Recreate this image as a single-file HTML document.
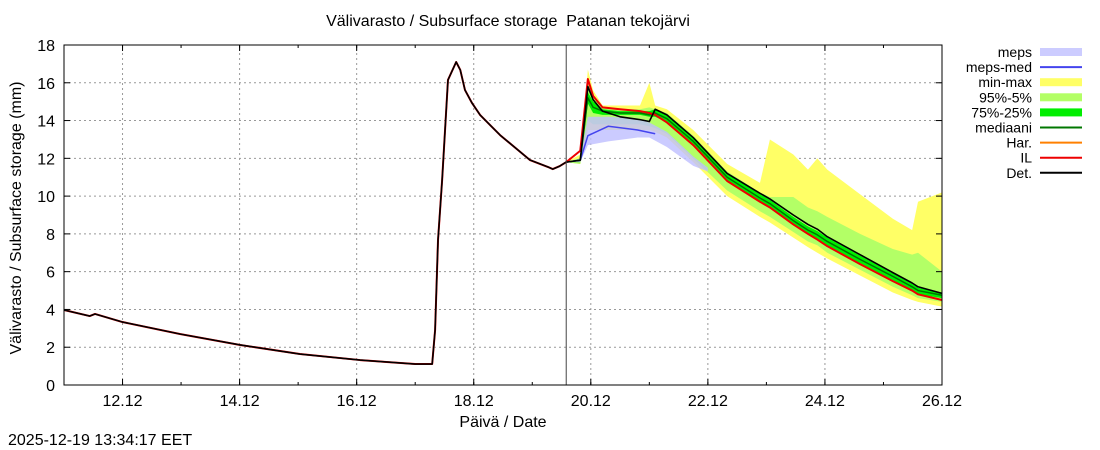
<!DOCTYPE html>
<html><head><meta charset="utf-8"><style>
body{margin:0;background:#fff;}
svg{display:block;font-family:"Liberation Sans",sans-serif;}
</style></head><body>
<svg id="chart" width="1100" height="450" xmlns="http://www.w3.org/2000/svg">
<text x="508" y="26" font-size="16" text-anchor="middle" xml:space="preserve">Välivarasto / Subsurface storage  Patanan tekojärvi</text>
<text x="503" y="427" font-size="16" text-anchor="middle">Päivä / Date</text>
<text transform="translate(21,218) rotate(-90)" font-size="16" text-anchor="middle">Välivarasto / Subsurface storage (mm)</text>
<text x="8" y="445" font-size="16">2025-12-19 13:34:17 EET</text>
<g id="grid"></g><g id="marks"></g><g id="axes"></g><g id="legend"></g>
</svg>
<script>
const xTickDays=[12,14,16,18,20,22,24,26];
const xTickLabels=["12.12","14.12","16.12","18.12","20.12","22.12","24.12","26.12"];
const yTicks=[0,2,4,6,8,10,12,14,16,18];
const histDays=[11.0,11.44,11.53,11.99,12.98,14.01,15.03,16.06,17.0,17.29,17.34,17.39,17.46,17.56,17.70,17.77,17.85,17.97,18.11,18.45,18.96,19.27,19.35,19.47,19.58];
const histVals=[3.97,3.65,3.76,3.34,2.70,2.12,1.64,1.32,1.11,1.11,2.91,7.68,10.85,16.15,17.10,16.68,15.62,14.93,14.29,13.23,11.91,11.54,11.43,11.59,11.80];
const fDays=[19.58,19.82,19.95,20.04,20.2,20.5,20.84,21.0,21.1,21.3,21.75,22.33,22.89,23.06,23.46,23.71,23.87,24.04,24.6,25.16,25.49,25.59,26.0];
const detF=[11.8,11.9,15.8,15.1,14.5,14.2,14.05,13.95,14.6,14.3,13.1,11.2,10.15,9.85,9.0,8.5,8.25,7.85,6.9,5.95,5.4,5.2,4.85];
const maxF=[11.8,12.2,16.7,15.6,14.8,14.8,14.8,16.0,14.8,14.6,13.5,11.7,10.7,13.0,12.2,11.4,12.0,11.4,10.1,8.8,8.2,9.7,10.2];
const p95F=[11.8,12.0,16.0,15.2,14.7,14.6,14.6,14.7,14.6,14.4,13.2,11.3,10.2,9.95,9.95,9.4,9.2,8.9,8.0,7.2,6.9,7.0,6.0];
const p75F=[11.8,12.0,15.5,15.0,14.6,14.5,14.5,14.5,14.6,14.3,13.1,11.2,10.1,9.8,8.9,8.4,8.15,7.8,6.85,5.9,5.35,5.15,4.9];
const medF=[11.8,11.9,15.2,14.7,14.5,14.4,14.4,14.3,14.4,14.1,12.9,11.0,9.9,9.6,8.7,8.2,7.95,7.6,6.65,5.75,5.2,5.0,4.75];
const p25F=[11.8,11.8,14.9,14.4,14.3,14.3,14.3,14.2,14.2,13.9,12.7,10.8,9.7,9.4,8.5,8.0,7.75,7.4,6.45,5.55,5.0,4.8,4.6];
const p5F=[11.8,11.7,14.0,13.8,13.8,13.8,13.8,13.7,13.6,13.3,12.0,10.3,9.2,8.9,8.1,7.6,7.4,7.0,6.1,5.2,4.75,4.6,4.4];
const minF=[11.8,11.7,13.5,13.5,13.5,13.5,13.5,13.5,13.4,13.1,11.8,10.0,8.9,8.6,7.8,7.3,7.0,6.7,5.8,4.9,4.5,4.4,4.15];
const ilF=[11.9,12.4,16.2,15.3,14.7,14.6,14.5,14.4,14.3,13.9,12.7,10.8,9.7,9.4,8.5,8.0,7.7,7.35,6.4,5.5,5.0,4.8,4.5];
const mepsDays=[19.58,19.82,19.95,20.3,20.8,21.0,21.3,21.75,22.0];
const mepsLow=[11.8,11.8,12.7,12.9,13.1,13.1,12.6,11.6,11.3];
const mepsHigh=[11.8,12.0,14.2,14.2,14.1,13.9,13.4,12.1,11.5];
const mepsMedDays=[19.58,19.82,19.95,20.3,20.8,21.1];
const mepsMed=[11.8,11.9,13.2,13.7,13.5,13.3];
const nowDay=19.58;

const X0=64,X1=942,Y0=385,Y1=45,D0=11,D1=26,V0=0,V1=18;
const sx=d=>X0+(d-D0)/(D1-D0)*(X1-X0);
const sy=v=>Y0-(v-V0)/(V1-V0)*(Y0-Y1);
const NS="http://www.w3.org/2000/svg";
function mk(tag,attrs,parent){const e=document.createElementNS(NS,tag);for(const k in attrs)e.setAttribute(k,attrs[k]);parent.appendChild(e);return e;}
const grid=document.getElementById('grid'),marks=document.getElementById('marks'),axes=document.getElementById('axes'),legend=document.getElementById('legend');
xTickDays.forEach((d,i)=>{
  const g=mk('line',{x1:sx(d),x2:sx(d),y1:Y0,y2:Y1,stroke:'#999','stroke-dasharray':'2,3','stroke-width':1},grid);
  
  
  const t=mk('text',{x:sx(d),y:406,'font-size':16,'text-anchor':'middle'},axes);t.textContent=xTickLabels[i];
  
  
  mk('line',{x1:sx(d),x2:sx(d),y1:Y0,y2:Y0-6,stroke:'#000'},axes);
  mk('line',{x1:sx(d),x2:sx(d),y1:Y1,y2:Y1+6,stroke:'#000'},axes);
});
for(let d=11;d<=26;d++){mk('line',{x1:sx(d),x2:sx(d),y1:Y0,y2:Y0-3,stroke:'#000'},axes);mk('line',{x1:sx(d),x2:sx(d),y1:Y1,y2:Y1+3,stroke:'#000'},axes);}
yTicks.forEach(v=>{
  const g=mk('line',{x1:X0,x2:X1,y1:sy(v),y2:sy(v),stroke:'#999','stroke-dasharray':'2,3','stroke-width':1},grid);
  
  
  const t=mk('text',{x:55,y:sy(v)+6,'font-size':16,'text-anchor':'end'},axes);t.textContent=v;
  
  
  mk('line',{x1:X0,x2:X0+6,y1:sy(v),y2:sy(v),stroke:'#000'},axes);
  mk('line',{x1:X1,x2:X1-6,y1:sy(v),y2:sy(v),stroke:'#000'},axes);
});
function band(days,lo,hi,fill,name){
  let p=days.map((d,i)=>sx(d)+','+sy(hi[i])).join(' ')+' '+days.map((d,i)=>sx(d)+','+sy(lo[i])).reverse().join(' ');
  const e=mk('polygon',{points:p,fill:fill},marks);
  
  
}
function line(days,vals,stroke,w,name){
  const e=mk('polyline',{points:days.map((d,i)=>sx(d)+','+sy(vals[i])).join(' '),fill:'none',stroke:stroke,'stroke-width':w,'stroke-linejoin':'round'},marks);
  
  
}
band(fDays,minF,maxF,'#ffff66','min-max-band');
band(fDays,p5F,p95F,'#b3ff66','p95-p5-band');
band(fDays,p25F,p75F,'#00ee00','p75-p25-band');
band(mepsDays,mepsLow,mepsHigh,'rgba(190,190,255,0.8)','meps-band');
line(mepsMedDays,mepsMed,'#4444ee',1.5,'meps-median-line');
line(fDays,medF,'#007700',1.5,'median-line');
line(histDays.concat(fDays.slice(1)),histVals.concat(ilF.slice(1)),'#ee0000',2,'il-line');
line(histDays.concat(fDays.slice(1)),histVals.concat(detF.slice(1)),'#000',1.6,'det-line');
const nl=mk('line',{x1:sx(nowDay),x2:sx(nowDay),y1:Y0,y2:Y1,stroke:'#444','stroke-width':1},marks);


const fr=mk('rect',{x:X0,y:Y1,width:X1-X0,height:Y0-Y1,fill:'none',stroke:'#000','stroke-width':1},axes);


const legNames=["meps","meps-med","min-max","95%-5%","75%-25%","mediaani","Har.","IL","Det."];
const legColors=["#ccccff","#4444ee","#ffff66","#b3ff66","#00ee00","#007700","#ff8000","#ee0000","#000000"];
const legBox=[true,false,true,true,true,false,false,false,false];
legNames.forEach((n,i)=>{
  const y=52+i*15.1;
  const t=mk('text',{x:1032,y:y+5,'font-size':14,'text-anchor':'end'},legend);t.textContent=n;
  
  
  const s=legBox[i]?mk('rect',{x:1040,y:y-4,width:42,height:8,fill:legColors[i]},legend):mk('line',{x1:1040,x2:1082,y1:y,y2:y,stroke:legColors[i],'stroke-width':2},legend);
  
  
});
</script>
</body></html>
